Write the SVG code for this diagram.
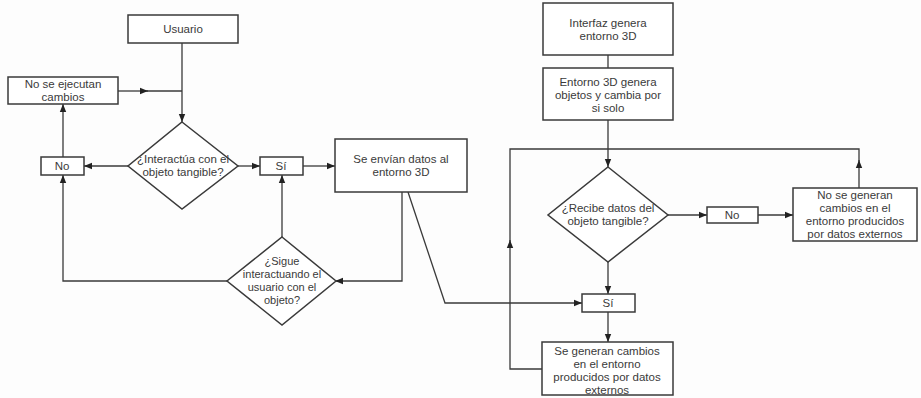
<svg xmlns="http://www.w3.org/2000/svg" width="921" height="398" viewBox="0 0 921 398">
<style>
.b{fill:#fff;stroke:#3a3a3a;stroke-width:1.5}
.c{fill:none;stroke:#3a3a3a;stroke-width:1.3}
.a{marker-end:url(#ar)}
text{font-family:"Liberation Sans",Arial,sans-serif;font-size:11.5px;fill:#3a3a3a;text-anchor:middle}
.s{font-size:11px}
</style>
<defs>
<marker id="ar" viewBox="0 0 10 10" refX="10" refY="5" markerWidth="8" markerHeight="8" markerUnits="userSpaceOnUse" orient="auto">
<path d="M0,1 L10,5 L0,9 Z" fill="#222"/>
</marker>
</defs>
<rect width="921" height="398" fill="#fdfdfd"/>
<g id="connectors">
<path class="c a" d="M182,43 V122"/>
<path class="c a" d="M118,91 H148"/>
<path class="c" d="M146,91 H182"/>
<path class="c a" d="M128,166 H84"/>
<path class="c a" d="M63,157 V104"/>
<path class="c a" d="M238,166 H260"/>
<path class="c a" d="M303,166 H335"/>
<path class="c a" d="M402,192 V281 H335"/>
<path class="c a" d="M282,237 V175"/>
<path class="c a" d="M227,281 H63 V175"/>
<path class="c a" d="M408,192 L445,303 H582"/>
<path class="c" d="M608,55 V68"/>
<path class="c a" d="M608,120 V167"/>
<path class="c a" d="M668,215 H707"/>
<path class="c a" d="M758,215 H793"/>
<path class="c a" d="M859,188 V160"/>
<path class="c" d="M859,162 V149 H608"/>
<path class="c a" d="M608,262 V294"/>
<path class="c a" d="M608,312 V342"/>
<path class="c a" d="M542,369 H510 V240"/>
<path class="c" d="M510,242 V149 H608"/>
</g>
<g id="usuario"><rect class="b" x="128" y="15" width="110" height="28"/><text x="183" y="33">Usuario</text></g>
<g id="no-ejecutan"><rect class="b" x="8" y="77" width="110" height="27"/><text x="63" y="88">No se ejecutan</text><text x="63" y="101">cambios</text></g>
<g id="interactua"><polygon class="b" points="182,122 238,166 182,209 128,166"/><text x="183" y="163">¿Interactúa con el</text><text x="183" y="176">objeto tangible?</text></g>
<g id="no1"><rect class="b" x="41" y="157" width="43" height="18"/><text x="62" y="170">No</text></g>
<g id="si1"><rect class="b" x="260" y="157" width="43" height="18"/><text x="281" y="170">Sí</text></g>
<g id="envian"><rect class="b" x="335" y="139" width="132" height="53"/><text x="401" y="163">Se envían datos al</text><text x="401" y="176">entorno 3D</text></g>
<g id="sigue"><polygon class="b" points="282,237 336,281 282,325 227,281"/><text class="s" x="282" y="265">¿Sigue</text><text class="s" x="282" y="278">interactuando el</text><text class="s" x="282" y="291">usuario con el</text><text class="s" x="282" y="304">objeto?</text></g>
<g id="interfaz"><rect class="b" x="543" y="3" width="130" height="52"/><text x="608" y="27">Interfaz genera</text><text x="608" y="40">entorno 3D</text></g>
<g id="entorno"><rect class="b" x="543" y="68" width="130" height="52"/><text x="608" y="86">Entorno 3D genera</text><text x="608" y="99">objetos y cambia por</text><text x="608" y="112">si solo</text></g>
<g id="recibe"><polygon class="b" points="608,167 668,215 608,262 548,215"/><text x="608" y="212">¿Recibe datos del</text><text x="608" y="225">objeto tangible?</text></g>
<g id="no2"><rect class="b" x="707" y="207" width="51" height="16"/><text x="732" y="219">No</text></g>
<g id="no-generan"><rect class="b" x="793" y="188" width="124" height="53"/><text x="855" y="199">No se generan</text><text x="855" y="212">cambios en el</text><text x="855" y="225">entorno producidos</text><text x="855" y="238">por datos externos</text></g>
<g id="si2"><rect class="b" x="582" y="294" width="53" height="18"/><text x="608" y="307">Sí</text></g>
<g id="generan"><rect class="b" x="542" y="342" width="131" height="53"/><text x="607" y="355">Se generan cambios</text><text x="607" y="368">en el entorno</text><text x="607" y="381">producidos por datos</text><text x="607" y="394">externos</text></g>
</svg>
